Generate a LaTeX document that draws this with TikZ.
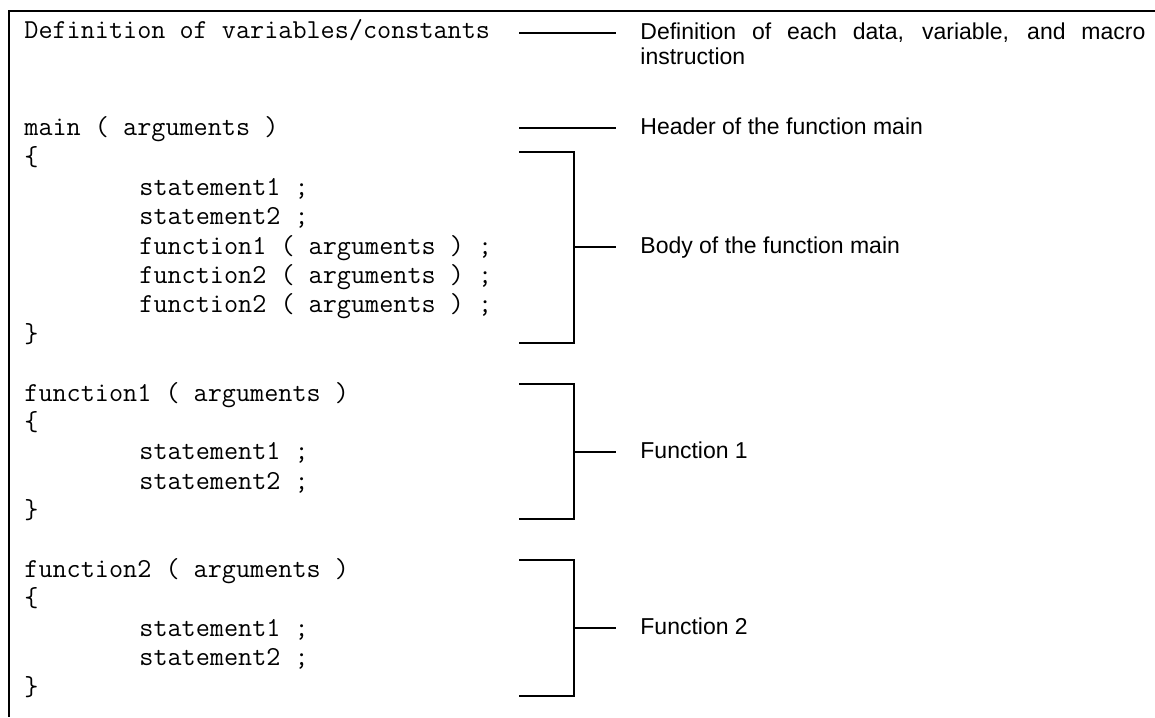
\documentclass[tikz,border=0pt]{standalone}
\usepackage{fontspec}
\setmainfont{Liberation Sans}

\tikzset{
  code/.style={anchor=west, inner sep=0pt, font=\ttfamily\fontsize{13.7}{16}\selectfont, text height=8pt, text depth=2pt},
  note/.style={anchor=west, inner ysep=0pt, inner xsep=12pt, font=\fontsize{11.5}{12.5}\selectfont, text height=8.5pt, text depth=2pt},
  rule/.style={line width=0.65pt},
}

\begin{document}
\begin{tikzpicture}[x=0.5pt, y=-0.5pt]
	\useasboundingbox (0,0) rectangle (1155,717);
	% frame
	\draw[line width=0.8pt] (1155,11) -- (9,11) -- (9,717);
	% program text
	\node[code] (defs) at (24,33) {Definition of variables/constants};
	\node[code] (mainhd) at (24,129) {main ( arguments )};
	\node[code] (mainop) at (24,159) {\{};
	\node[code] (ms1) at (139,189) {statement1 ;};
	\node[code] (ms2) at (139,218) {statement2 ;};
	\node[code] (mcall1) at (139,248) {function1 ( arguments ) ;};
	\node[code] (mcall2) at (139,277) {function2 ( arguments ) ;};
	\node[code] (mcall3) at (139,306) {function2 ( arguments ) ;};
	\node[code] (maincl) at (24,336) {\}};
	\node[code] (fahd) at (24,395) {function1 ( arguments )};
	\node[code] (faop) at (24,424) {\{};
	\node[code] (fas1) at (139,453) {statement1 ;};
	\node[code] (fas2) at (139,483) {statement2 ;};
	\node[code] (facl) at (24,512) {\}};
	\node[code] (fbhd) at (24,571) {function2 ( arguments )};
	\node[code] (fbop) at (24,600) {\{};
	\node[code] (fbs1) at (139,630) {statement1 ;};
	\node[code] (fbs2) at (139,659) {statement2 ;};
	\node[code] (fbcl) at (24,689) {\}};
	% notes
	\node[note, anchor=base west, text height=, text depth=, text width=252.5pt, align=justify] (defnote) at (616,39.5)
		{Definition of each data, variable, and macro\linebreak instruction};
	\node[note] (hdnote) at (616,128) {Header of the function main};
	\node[note] (bodynote) at (616,247) {Body of the function main};
	\node[note] (fanote) at (616,452) {Function 1};
	\node[note] (fbnote) at (616,628) {Function 2};
	% leaders
	\coordinate (d0) at (519,33);
	\coordinate (h0) at (519,128);
	\draw[rule] (d0) -- (d0 -| defnote.west);
	\draw[rule] (h0) -- (hdnote.west);
	% brackets
	\coordinate (b1t) at (519,152);
	\coordinate (b1m) at (574,247);
	\coordinate (b1b) at (519,343);
	\coordinate (b2t) at (519,384);
	\coordinate (b2m) at (574,452);
	\coordinate (b2b) at (519,519);
	\coordinate (b3t) at (519,560);
	\coordinate (b3m) at (574,628);
	\coordinate (b3b) at (519,696);
	\draw[rule] (b1t) -| (b1m) |- (b1b);
	\draw[rule] (b2t) -| (b2m) |- (b2b);
	\draw[rule] (b3t) -| (b3m) |- (b3b);
	\draw[rule] (b1m) -- (bodynote.west);
	\draw[rule] (b2m) -- (fanote.west);
	\draw[rule] (b3m) -- (fbnote.west);
\end{tikzpicture}
\end{document}
